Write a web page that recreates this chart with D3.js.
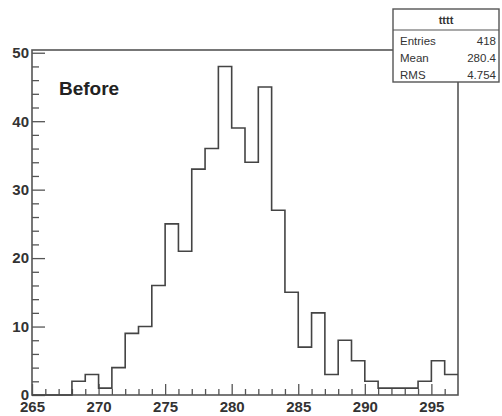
<!DOCTYPE html>
<html>
<head>
<meta charset="utf-8">
<script src="https://cdn.jsdelivr.net/npm/d3@7"></script>
<style>
  body { margin: 0; background: #fff; }
  svg { display: block; font-family: "Liberation Sans", Arial, sans-serif; }
  .axis text { font-size: 15px; font-weight: bold; fill: #333; }
  .axis line { stroke: #555; stroke-width: 1.3; }
</style>
</head>
<body>
<div id="chart"></div>
<script>
// --- histogram data (bin lower edges, counts) ---
const binLow = [265, 266, 267, 268, 269, 270, 271, 272, 273, 274, 275, 276, 277, 278, 279, 280,
                281, 282, 283, 284, 285, 286, 287, 288, 289, 290, 291, 292, 293, 294, 295, 296];
const counts = [0, 0, 0, 2, 3, 1, 4, 9, 10, 16, 25, 21, 33, 36, 48, 39,
                34, 45, 27, 15, 7, 12, 3, 8, 5, 2, 1, 1, 1, 2, 5, 3];
const xMajorTicks = [265, 270, 275, 280, 285, 290, 295];
const yMajorTicks = [0, 10, 20, 30, 40, 50];
const histTitle = "tttt";
const statsLabels = ["Entries", "Mean", "RMS"];
const statsValues = ["418", "280.4", "4.754"];
const panelLabel = "Before";

const W = 502, H = 416;
const frame = { left: 32, right: 458, top: 50, bottom: 395 };
const binWidth = 1;

const svg = d3.select("#chart").append("svg")
  .attr("width", W)
  .attr("height", H);

// scales
const x = d3.scaleLinear().domain([265, 297]).range([frame.left, frame.right]);
const y = d3.scaleLinear().domain([0, d3.max(counts) * 1.05]).range([frame.bottom, frame.top]);

// minor ticks
const xMinor = d3.range(265, 297, 1).filter(v => !xMajorTicks.includes(v));
const yMinor = d3.range(0, 51, 2).filter(v => !yMajorTicks.includes(v));

svg.append("g")
  .attr("class", "axis")
  .attr("transform", `translate(0,${frame.bottom})`)
  .call(d3.axisBottom(x).tickValues(xMinor).tickSizeInner(-6).tickSizeOuter(0).tickFormat(""))
  .call(g => g.select(".domain").remove());

svg.append("g")
  .attr("class", "axis")
  .attr("transform", `translate(0,${frame.bottom})`)
  .call(d3.axisBottom(x).tickValues(xMajorTicks).tickSizeInner(-11).tickSizeOuter(0).tickPadding(3).tickFormat(d3.format("d")))
  .call(g => g.select(".domain").remove())
  .call(g => g.selectAll("text").attr("dy", "0.95em"));

svg.append("g")
  .attr("class", "axis")
  .attr("transform", `translate(${frame.left},0)`)
  .call(d3.axisLeft(y).tickValues(yMinor).tickSizeInner(-7).tickSizeOuter(0).tickFormat(""))
  .call(g => g.select(".domain").remove());

svg.append("g")
  .attr("class", "axis")
  .attr("transform", `translate(${frame.left},0)`)
  .call(d3.axisLeft(y).tickValues(yMajorTicks).tickSizeInner(-13).tickSizeOuter(0).tickPadding(3).tickFormat(d3.format("d")))
  .call(g => g.select(".domain").remove());

// frame
svg.append("rect")
  .attr("x", frame.left)
  .attr("y", frame.top)
  .attr("width", frame.right - frame.left)
  .attr("height", frame.bottom - frame.top)
  .attr("fill", "none")
  .attr("stroke", "#555")
  .attr("stroke-width", 1.6);

// histogram outline
const steps = binLow.map((b, i) => [b, counts[i]]);
steps.push([binLow[binLow.length - 1] + binWidth, counts[counts.length - 1]]);

const line = d3.line()
  .x(d => x(d[0]))
  .y(d => y(d[1]))
  .curve(d3.curveStepAfter);

svg.append("path")
  .datum(steps)
  .attr("d", line)
  .attr("fill", "none")
  .attr("stroke", "#444")
  .attr("stroke-width", 1.6);

// panel label
svg.append("text")
  .attr("x", 59)
  .attr("y", 95)
  .attr("font-size", 19)
  .attr("font-weight", "bold")
  .attr("fill", "#222")
  .text(panelLabel);

// stats box
const box = { x: 393, y: 9, w: 106, h: 73, head: 21 };
const stats = svg.append("g").attr("class", "stats");

stats.append("rect")
  .attr("x", box.x)
  .attr("y", box.y)
  .attr("width", box.w)
  .attr("height", box.h)
  .attr("fill", "#fff")
  .attr("stroke", "#555")
  .attr("stroke-width", 1.4);

stats.append("line")
  .attr("x1", box.x).attr("x2", box.x + box.w)
  .attr("y1", box.y + box.head).attr("y2", box.y + box.head)
  .attr("stroke", "#555")
  .attr("stroke-width", 1.2);

stats.append("text")
  .attr("x", box.x + box.w / 2)
  .attr("y", box.y + 15)
  .attr("text-anchor", "middle")
  .attr("font-size", 11)
  .attr("font-weight", "bold")
  .attr("fill", "#333")
  .text(histTitle);

statsLabels.forEach((lab, i) => {
  const ty = box.y + box.head + 15 + i * 17;
  stats.append("text")
    .attr("x", box.x + 7)
    .attr("y", ty)
    .attr("font-size", 11.5)
    .attr("fill", "#333")
    .text(lab);
  stats.append("text")
    .attr("x", box.x + box.w - 3)
    .attr("y", ty)
    .attr("text-anchor", "end")
    .attr("font-size", 11.5)
    .attr("fill", "#333")
    .text(statsValues[i]);
});
</script>
</body>
</html>
